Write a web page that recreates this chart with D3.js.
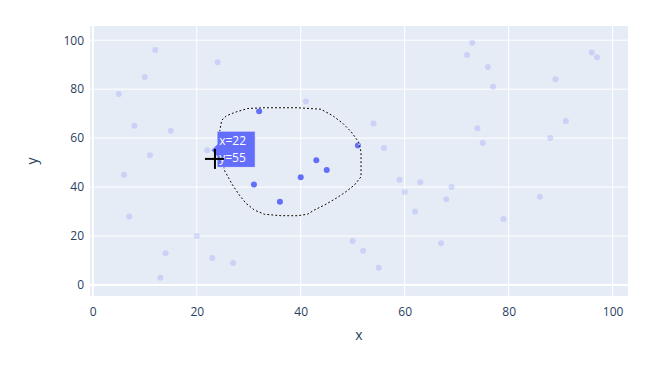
<!DOCTYPE html>
<html lang="en">
<head>
    <meta charset="UTF-8">
    <script src="https://d3js.org/d3.v7.min.js"></script>
    <title>Lasso selection</title>
    <style>
        body { margin: 0; background: #fff; }
        svg text { font-family: "Open Sans", "Noto Sans", sans-serif; }
    </style>
</head>
<body>
    <div id="chart"></div>
    <script>
        // scatter values
        const xs = [12, 24, 10, 5, 41, 32, 8, 15, 51, 43, 11, 22,
                    73, 72, 96, 97, 76, 77, 89, 54, 91, 74, 56, 75, 88,
                    6, 31, 36, 40, 45, 7, 20, 14, 23, 27, 13, 50,
                    59, 63, 60, 69, 68, 62, 86, 79, 67, 52, 55];
        const ys = [96, 91, 85, 78, 75, 71, 65, 63, 57, 51, 53, 55,
                    99, 94, 95, 93, 89, 81, 84, 66, 67, 64, 56, 58, 60,
                    45, 41, 34, 44, 47, 28, 20, 13, 11, 9, 3, 18,
                    43, 42, 38, 40, 35, 30, 36, 27, 17, 14, 7];
        // points caught by the lasso (index into xs / ys)
        const selectedIdx = [5, 8, 9, 26, 27, 28, 29];

        // lasso outline in data units
        const lassoX = [24.4, 24.8, 25.7, 27.3, 29.8, 33.0, 39.4, 43.9, 46.2, 48.1, 49.7, 51.1,
                        51.6, 51.6, 51.6, 50.3, 48.7, 46.8, 44.6, 42.6, 41.3, 39.4, 36.2, 33.0,
                        31.1, 29.5, 28.2, 26.9, 26.0, 25.3];
        const lassoY = [62.6, 67.3, 69.1, 70.5, 72.1, 72.4, 72.4, 71.8, 69.1, 66.0, 62.6, 58.5,
                        54.4, 49.0, 44.2, 40.8, 38.1, 35.4, 32.7, 30.6, 28.9, 28.3, 28.3, 28.9,
                        30.6, 33.3, 36.7, 40.8, 44.2, 46.9];

        const xTicks = [0, 20, 40, 60, 80, 100];
        const yTicks = [0, 20, 40, 60, 80, 100];
        const hoverIdx = 11;            // point under the mouse
        const cursorAt = [23.5, 51.5];  // mouse crosshair, data units

        const width = 660, height = 380;
        const margin = { top: 26, right: 32, bottom: 84, left: 90 };
        const plotW = width - margin.left - margin.right;
        const plotH = height - margin.top - margin.bottom;

        const x = d3.scaleLinear().domain([-0.54, 102.96]).range([0, plotW]);
        const y = d3.scaleLinear().domain([-4.5, 105.8]).range([plotH, 0]);

        const svg = d3.select("#chart")
            .append("svg")
            .attr("width", width)
            .attr("height", height);

        const g = svg.append("g")
            .attr("transform", `translate(${margin.left},${margin.top})`);

        g.append("rect")
            .attr("width", plotW)
            .attr("height", plotH)
            .attr("fill", "#e5ecf6");

        // grid
        g.append("g").selectAll("line")
            .data(xTicks)
            .join("line")
            .attr("x1", d => x(d)).attr("x2", d => x(d))
            .attr("y1", 0).attr("y2", plotH)
            .attr("stroke", "#fff")
            .attr("stroke-width", d => d === 0 ? 2 : 1);

        g.append("g").selectAll("line")
            .data(yTicks)
            .join("line")
            .attr("x1", 0).attr("x2", plotW)
            .attr("y1", d => y(d)).attr("y2", d => y(d))
            .attr("stroke", "#fff")
            .attr("stroke-width", d => d === 0 ? 2 : 1);

        // axes (labels only, plotly style)
        const xAxis = g.append("g")
            .attr("transform", `translate(0,${plotH})`)
            .call(d3.axisBottom(x).tickValues(xTicks).tickSize(0).tickPadding(11));
        const yAxis = g.append("g")
            .call(d3.axisLeft(y).tickValues(yTicks).tickSize(0).tickPadding(6));
        [xAxis, yAxis].forEach(a => {
            a.select(".domain").remove();
            a.selectAll("text")
                .attr("fill", "#2a3f5f")
                .style("font-size", "12px")
                .style("font-family", '"Open Sans", sans-serif');
        });

        svg.append("text")
            .attr("x", margin.left + plotW / 2)
            .attr("y", 340)
            .attr("text-anchor", "middle")
            .attr("fill", "#2a3f5f")
            .style("font-size", "14px")
            .text("x");

        svg.append("text")
            .attr("transform", `translate(37,${margin.top + plotH / 2}) rotate(-90)`)
            .attr("text-anchor", "middle")
            .attr("fill", "#2a3f5f")
            .style("font-size", "14px")
            .text("y");

        // points
        const pts = xs.map((v, i) => ({ x: v, y: ys[i], sel: selectedIdx.includes(i) }));

        g.append("g").selectAll("circle")
            .data(pts)
            .join("circle")
            .attr("cx", d => x(d.x))
            .attr("cy", d => y(d.y))
            .attr("r", 3)
            .attr("fill", "#636efa")
            .attr("opacity", d => d.sel ? 1 : 0.2);

        // lasso outline
        const lasso = lassoX.map((v, i) => [x(v), y(lassoY[i])]);
        const lassoPath = "M" + lasso.join("L") + "Z";
        g.append("path")
            .attr("d", lassoPath)
            .attr("fill", "none")
            .attr("stroke", "#fff")
            .attr("stroke-width", 1);
        g.append("path")
            .attr("d", lassoPath)
            .attr("fill", "none")
            .attr("stroke", "#000")
            .attr("stroke-width", 1)
            .attr("stroke-dasharray", "2,2");

        // hover label
        const hp = pts[hoverIdx];
        const hx = x(hp.x) + 4, hy = y(hp.y);
        const hover = g.append("g").attr("transform", `translate(${hx},${hy})`);
        hover.append("path")
            .attr("d", "M0,0L6,-6V-19H44V17H6V6Z")
            .attr("fill", "#636efa")
            .attr("stroke", "#fff")
            .attr("stroke-width", 0.5);
        const label = hover.append("text")
            .attr("fill", "#fff")
            .style("font-size", "12px");
        label.append("tspan").attr("x", 8).attr("y", -5).text(`x=${hp.x}`);
        label.append("tspan").attr("x", 8).attr("y", 12).text(`y=${hp.y}`);

        // mouse crosshair
        const cx = x(cursorAt[0]), cy = y(cursorAt[1]);
        const cursor = g.append("g").attr("stroke", "#000").attr("stroke-width", 2);
        cursor.append("line").attr("x1", cx - 10).attr("x2", cx + 9).attr("y1", cy).attr("y2", cy);
        cursor.append("line").attr("x1", cx).attr("x2", cx).attr("y1", cy - 10).attr("y2", cy + 10);
    </script>
</body>
</html>
